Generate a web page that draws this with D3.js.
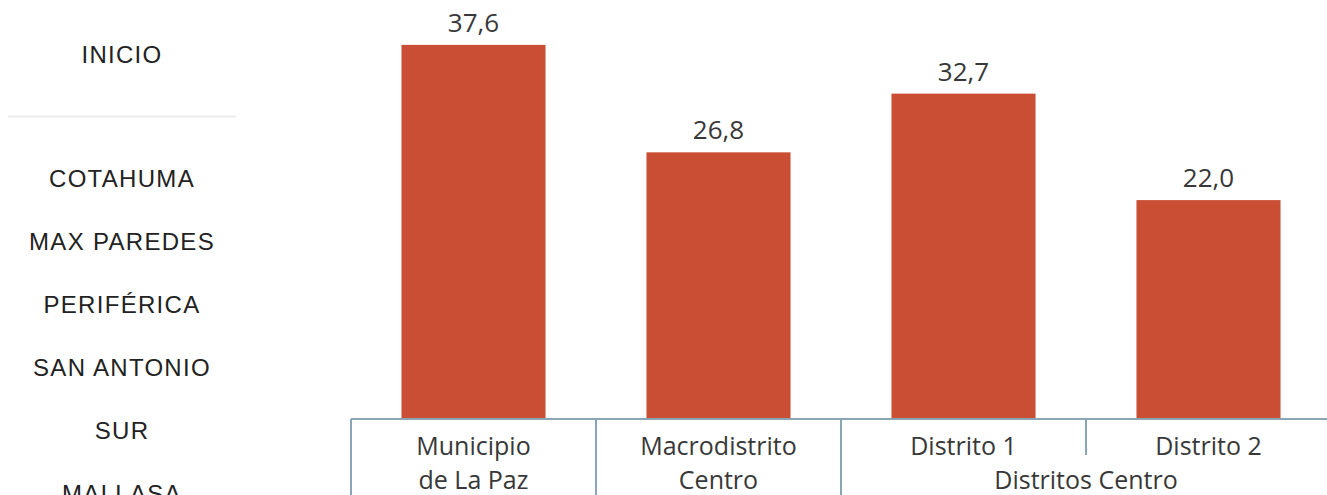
<!DOCTYPE html>
<html>
<head>
<meta charset="utf-8">
<script src="https://cdn.jsdelivr.net/npm/d3@7"></script>
<style>
  html, body { margin: 0; padding: 0; background: #fff; overflow: hidden; }
  svg { display: block; }
</style>
</head>
<body>
<div id="chart"></div>
<script>
var width = 1327,
height = 495;

// menu on the left side of the page
var menuTop = "INICIO";
var menuItems = ["COTAHUMA", "MAX PAREDES", "PERIFÉRICA", "SAN ANTONIO", "SUR", "MALLASA"];

// chart data
var categories = ["Municipio de La Paz", "Macrodistrito Centro", "Distrito 1", "Distrito 2"];
var catLines = [["Municipio", "de La Paz"], ["Macrodistrito", "Centro"], ["Distrito 1"], ["Distrito 2"]];
var values = [37.6, 26.8, 32.7, 22.0];
var groupLabel = "Distritos Centro";
var groupMembers = ["Distrito 1", "Distrito 2"];

var svg = d3.select("#chart").append("svg")
.attr("width", width)
.attr("height", height);

// Menu

var menu = svg.append("g").attr("class", "menu");

menu.append("text")
.attr("x", 122)
.attr("y", 63)
.attr("text-anchor", "middle")
.attr("font-family", "'Liberation Sans', Arial, sans-serif")
.attr("font-size", 24)
.attr("letter-spacing", "1.3px")
.attr("fill", "#222")
.text(menuTop);

menu.append("line")
.attr("x1", 8).attr("x2", 236)
.attr("y1", 116.5).attr("y2", 116.5)
.attr("stroke", "#ececec")
.attr("stroke-width", 2);

menu.selectAll("text.item").data(menuItems).enter().append("text")
.attr("class", "item")
.attr("x", 122)
.attr("y", function(d, i) { return 187 + i * 63; })
.attr("text-anchor", "middle")
.attr("font-family", "'Liberation Sans', Arial, sans-serif")
.attr("font-size", 24)
.attr("letter-spacing", "1.3px")
.attr("fill", "#222")
.text(function(d) { return d; });

// Chart

var baseY = 419;

var x = d3.scaleBand()
.domain(categories)
.range([351, 1331])
.paddingInner(0.412)
.paddingOuter(0.206);

var y = d3.scaleLinear()
.domain([0, 42])
.range([baseY, baseY - 42 * 9.95]);

var step = x.step();
var edge = function(c) { return x(c) - step * x.paddingInner() / 2; };

var g = svg.append("g").attr("class", "plot");

g.selectAll("rect.bar").data(values).enter().append("rect")
.attr("class", "bar")
.attr("x", function(d, i) { return x(categories[i]); })
.attr("y", function(d) { return y(d); })
.attr("width", x.bandwidth())
.attr("height", function(d) { return baseY - y(d); })
.attr("fill", "#c94e33");

g.selectAll("text.val").data(values).enter().append("text")
.attr("class", "val")
.attr("x", function(d, i) { return x(categories[i]) + x.bandwidth() / 2; })
.attr("y", function(d) { return y(d) - 13; })
.attr("text-anchor", "middle")
.attr("font-family", "'Open Sans', sans-serif")
.attr("font-size", 26)
.attr("fill", "#383838")
.text(function(d) { return d3.format(".1f")(d).replace(".", ","); });

// axis line and category dividers
var axisColor = "#8aa6b6";

g.append("line")
.attr("x1", edge(categories[0])).attr("x2", width + 10)
.attr("y1", baseY).attr("y2", baseY)
.attr("stroke", axisColor).attr("stroke-width", 2);

categories.forEach(function(c) {
  var short = groupMembers.indexOf(c) > 0;
  g.append("line")
  .attr("x1", edge(c)).attr("x2", edge(c))
  .attr("y1", baseY).attr("y2", short ? 455 : height + 5)
  .attr("stroke", axisColor).attr("stroke-width", 2);
});

g.selectAll("text.cat").data(categories).enter().append("text")
.attr("class", "cat")
.attr("x", function(d) { return x(d) + x.bandwidth() / 2; })
.attr("y", 455)
.attr("text-anchor", "middle")
.attr("font-family", "'Open Sans', sans-serif")
.attr("font-size", 25)
.attr("fill", "#383838")
.each(function(d, i) {
  var t = d3.select(this);
  catLines[i].forEach(function(line, j) {
    t.append("tspan")
    .attr("x", x(d) + x.bandwidth() / 2)
    .attr("dy", j === 0 ? 0 : 34)
    .text(line);
  });
});

var gx0 = edge(groupMembers[0]),
gx1 = edge(groupMembers[groupMembers.length - 1]) + step;

g.append("text")
.attr("x", (gx0 + gx1) / 2)
.attr("y", 489)
.attr("text-anchor", "middle")
.attr("font-family", "'Open Sans', sans-serif")
.attr("font-size", 25)
.attr("fill", "#383838")
.text(groupLabel);
</script>
</body>
</html>
